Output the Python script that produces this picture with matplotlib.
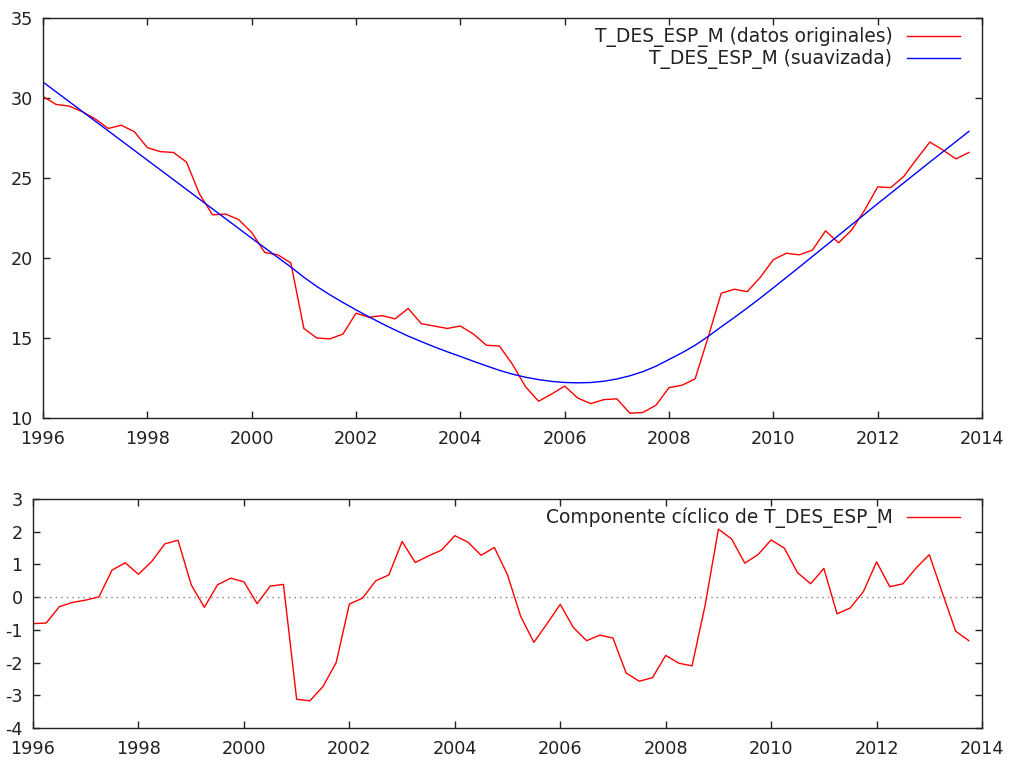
import matplotlib
matplotlib.use('Agg')
import matplotlib.pyplot as plt
import numpy as np

# quarterly series 1996Q1 - 2013Q4
start_year = 1996
original = [30.1, 29.6, 29.5, 29.15, 28.7, 28.1, 28.3, 27.9,
            26.9, 26.65, 26.6, 26.0, 24.0, 22.7, 22.75, 22.4,
            21.6, 20.35, 20.2, 19.7, 15.6, 15.0, 14.95, 15.25,
            16.55, 16.3, 16.4, 16.2, 16.85, 15.9, 15.75, 15.6,
            15.75, 15.25, 14.55, 14.5, 13.35, 11.95, 11.05, 11.5,
            12.0, 11.25, 10.9, 11.15, 11.2, 10.3, 10.35, 10.8,
            11.9, 12.05, 12.45, 15.05, 17.8, 18.05, 17.9, 18.8,
            19.9, 20.3, 20.2, 20.5, 21.7, 20.95, 21.75, 23.0,
            24.45, 24.4, 25.1, 26.2, 27.25, 26.75, 26.2, 26.6]
smoothed = [31.0, 30.39, 29.78, 29.17, 28.56, 27.95, 27.34, 26.73,
            26.12, 25.51, 24.9, 24.29, 23.68, 23.07, 22.46, 21.85,
            21.24, 20.64, 20.04, 19.44, 18.8, 18.22, 17.7, 17.22,
            16.76, 16.32, 15.9, 15.5, 15.12, 14.78, 14.45, 14.14,
            13.85, 13.55, 13.26, 12.98, 12.74, 12.55, 12.4, 12.29,
            12.22, 12.2, 12.22, 12.3, 12.44, 12.64, 12.9, 13.24,
            13.66, 14.08, 14.55, 15.1, 15.7, 16.28, 16.88, 17.5,
            18.14, 18.79, 19.44, 20.1, 20.76, 21.42, 22.08, 22.74,
            23.4, 24.05, 24.7, 25.35, 26.0, 26.64, 27.28, 27.92]
cycle = [-0.81, -0.79, -0.29, -0.16, -0.09, 0.01, 0.83, 1.05,
         0.70, 1.09, 1.63, 1.74, 0.38, -0.31, 0.38, 0.58,
         0.47, -0.20, 0.34, 0.39, -3.12, -3.17, -2.73, -2.0,
         -0.21, -0.03, 0.50, 0.68, 1.70, 1.06, 1.26, 1.44,
         1.88, 1.68, 1.28, 1.52, 0.68, -0.59, -1.38, -0.81,
         -0.22, -0.93, -1.33, -1.16, -1.25, -2.32, -2.57, -2.46,
         -1.78, -2.02, -2.10, -0.23, 2.08, 1.78, 1.04, 1.30,
         1.75, 1.50, 0.75, 0.41, 0.88, -0.51, -0.33, 0.17,
         1.08, 0.32, 0.41, 0.89, 1.30, 0.12, -1.04, -1.33]

t = start_year + np.arange(len(original)) / 4.0

plt.rcParams['font.family'] = 'DejaVu Sans'
plt.rcParams['axes.unicode_minus'] = False

fig = plt.figure(figsize=(10.1, 7.62), dpi=100)
ax1 = fig.add_axes([0.0426, 0.4514, 0.9297, 0.5249])
ax2 = fig.add_axes([0.0327, 0.0446, 0.9396, 0.3005])

ax1.plot(t, original, color='#ff0000', lw=1.0, label='T_DES_ESP_M (datos originales)')
ax1.plot(t, smoothed, color='#0000ff', lw=1.0, label='T_DES_ESP_M (suavizada)')
ax1.set_ylim(10, 35)
ax1.set_yticks(np.arange(10, 36, 5))

ax2.axhline(0, color='#808080', lw=1.0, ls=(0, (1, 3)))
ax2.plot(t, cycle, color='#ff0000', lw=1.0, label='Componente cíclico de T_DES_ESP_M')
ax2.set_ylim(-4, 3)
ax2.set_yticks(np.arange(-4, 4, 1))

legend_anchor = {ax1: (0.9766, 0.977), ax2: (0.9768, 0.962)}

for ax in (ax1, ax2):
    ax.set_xlim(1996, 2014)
    ax.set_xticks(np.arange(1996, 2015, 2))
    ax.tick_params(direction='in', length=5, width=1, top=True, right=True,
                   labelsize=12.7, colors='#222222')
    ax.tick_params(axis='y', pad=7.5)
    ax.tick_params(axis='x', pad=8.5)
    for s in ax.spines.values():
        s.set_linewidth(1.0)
        s.set_color('#222222')
    leg = ax.legend(loc='upper right', bbox_to_anchor=legend_anchor[ax],
                    frameon=False, markerfirst=False,
                    handlelength=2.87, handletextpad=0.76, labelspacing=0.12,
                    borderaxespad=0, borderpad=0, fontsize=13.4)
    for txt in leg.get_texts():
        txt.set_color('#222222')

fig.savefig('out.png', dpi=100)
